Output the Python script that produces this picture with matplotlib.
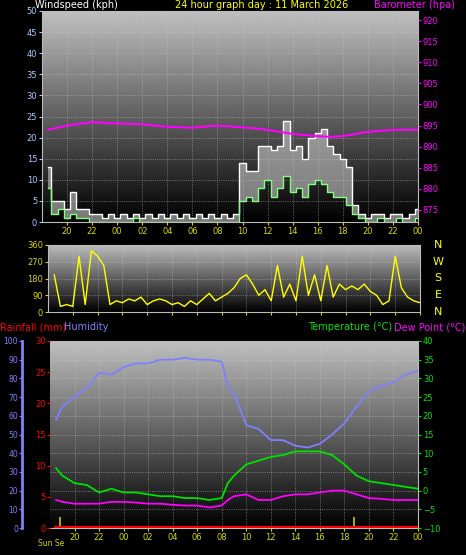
import numpy as np
import matplotlib
matplotlib.use("Agg")
import matplotlib.pyplot as plt

# ---------------- data ----------------
hour_ticks = [20, 22, 24, 26, 28, 30, 32, 34, 36, 38, 40, 42, 44, 46, 48]
hour_labels = ["20", "22", "00", "02", "04", "06", "08", "10", "12", "14", "16", "18", "20", "22", "00"]

wind_gust = [13, 5, 5, 3, 7, 3, 3, 2, 2, 1, 2, 1, 2, 1, 2, 1, 2, 1, 2, 1, 2, 1, 2, 1, 2, 1, 2, 1, 2, 1, 2, 14,
             12, 12, 18, 18, 17, 18, 24, 17, 18, 15, 20, 21, 22, 18, 16, 15, 13, 4, 2, 1, 2, 2, 1, 2, 2, 1, 2, 3]
wind_avg = [8, 2, 3, 1, 2, 1, 1, 0, 0, 0, 0, 0, 0, 0, 1, 0, 0, 0, 0, 0, 0, 0, 0, 0, 0, 0, 0, 0, 0, 0, 0, 5,
            6, 5, 8, 10, 6, 8, 11, 7, 8, 6, 9, 10, 9, 7, 6, 6, 4, 2, 1, 0, 0, 1, 0, 0, 1, 0, 0, 1]
wind_dir = [200, 30, 40, 30, 300, 40, 330, 300, 250, 40, 60, 50, 70, 60, 80, 40, 60, 70, 60, 40, 50, 30, 60, 40,
            70, 100, 60, 80, 100, 130, 180, 200, 150, 90, 120, 60, 250, 80, 150, 60, 300, 90, 200, 60, 250, 80,
            150, 120, 140, 120, 150, 110, 90, 40, 60, 300, 130, 80, 60, 50]

press_t = [18.5, 20, 22, 24, 26, 28, 30, 32, 34, 36, 38, 40, 41, 42, 44, 46, 48]
press = [894, 895, 895.8, 895.5, 895.3, 894.7, 894.5, 895, 894.6, 894, 893, 892.5, 892.3, 892.5, 893.5, 894, 894]

clim_t = [18.5, 19, 20, 21, 22, 23, 24, 25, 26, 27, 28, 29, 30, 31, 32, 32.5, 33, 34, 35, 36, 37, 38, 39, 40,
          41, 42, 43, 44, 45, 46, 47, 48]
humidity = [58, 65, 70, 75, 83, 82, 86, 88, 88, 90, 90, 91, 90, 90, 89, 76, 72, 55, 53, 47, 47, 44, 43, 45,
            50, 56, 65, 73, 76, 78, 82, 84]
temperature = [6, 4, 2, 1.5, -0.5, 0.5, -0.5, -0.5, -1, -1.5, -1.5, -2, -2, -2.5, -2, 2, 4, 7, 8, 9, 9.5,
               10.5, 10.5, 10.5, 9.5, 7, 4, 2.5, 2, 1.5, 1, 0.5]
dewpoint = [-2.5, -3, -3.5, -3.5, -3.5, -3, -3, -3.2, -3.5, -3.5, -3.8, -4, -4, -4.5, -4, -2.5, -1.5, -1, -2.5,
            -2.5, -1.5, -1, -1, -0.5, 0, 0, -1, -2, -2.2, -2.5, -2.5, -2.5]
rain_t = [18.5, 48]
rain = [0, 0]

# ---------------- figure ----------------
W, H = 466, 555
fig = plt.figure(figsize=(W / 100, H / 100), dpi=100, facecolor="black")
plt.rcParams['font.family'] = ['DejaVu Sans']
YEL = "#d8d800"
FS = 6

grad = np.linspace(0.75, 0.0, 256).reshape(-1, 1)


def panel(l, t, r, b):
    ax = fig.add_axes([l / W, 1 - b / H, (r - l) / W, (b - t) / H])
    ax.set_facecolor("black")
    ax.imshow(grad, extent=[0, 1, 0, 1], transform=ax.transAxes, cmap="gray", vmin=0, vmax=1,
              aspect="auto", zorder=0)
    ax.set_xlim(18, 48)
    ax.set_xticks(hour_ticks)
    ax.grid(True, color="#cccccc", ls=":", lw=0.6, alpha=0.6)
    for s in ax.spines.values():
        s.set_color("#bbbbbb")
    ax.tick_params(colors=YEL, labelsize=FS, length=2, pad=1.5)
    return ax


def tx(x, y, s, c, ha="left", fs=7):
    fig.text(x / W, 1 - y / H, s, color=c, ha=ha, va="center", fontsize=fs)


# panel 1: wind + pressure
ax1 = panel(42, 11, 418, 222)
tw = 18.5 + 0.5 * np.arange(len(wind_gust))
ax1.fill_between(tw, wind_avg, wind_gust, step="mid", color="#c8c8c8", alpha=0.6, lw=0, zorder=2)
ax1.step(tw, wind_gust, where="mid", color="white", lw=1.0, zorder=3)
ax1.step(tw, wind_avg, where="mid", color="#80ff80", lw=1.0, zorder=4)
ax1.set_ylim(0, 50)
ax1.set_yticks(range(0, 51, 5))
ax1.tick_params(axis="y", colors="#aaccff")
ax1.set_xticklabels(hour_labels)
ax1p = ax1.twinx()
ax1p.plot(press_t, press, color="#ff00ff", lw=1.5, zorder=5)
ax1p.set_ylim(872.1, 922.2)
ax1p.set_yticks(range(875, 921, 5))
ax1p.tick_params(colors="#ff00ff", labelsize=FS, length=2, pad=1.5)
for s in ax1p.spines.values():
    s.set_visible(False)
tx(35, 5, "Windspeed (kph)", "white")
tx(262, 5, "24 hour graph day : 11 March 2026", "#ffff00", ha="center")
tx(455, 5, "Barometer (hpa)", "#ff00ff", ha="right")

# panel 2: wind direction
ax2 = panel(48, 245, 420, 312)
td = 18.5 + 0.5 * np.arange(len(wind_dir))
ax2.plot(td, wind_dir, color="#ffff00", lw=1.0, zorder=3)
ax2.set_ylim(0, 360)
ax2.set_yticks([0, 90, 180, 270, 360])
ax2.set_xticklabels([])
for i, s in enumerate(["N", "W", "S", "E", "N"]):
    tx(438, 245 + i * 16.7, s, "#ffff00", ha="center", fs=8)

# panel 3: humidity / rain / temperature / dew point
ax3 = panel(50, 341, 418, 528)
ax3.plot(clim_t, humidity, color="#8080ff", lw=1.3, zorder=3)
ax3.set_ylim(0, 100)
ax3.set_yticks(range(0, 101, 10))
ax3.spines["left"].set_position(("outward", 20))
ax3.spines["left"].set_color("#8080ff")
ax3.spines["left"].set_linewidth(2)
ax3.tick_params(axis="y", colors="#8080ff", labelsize=5.5, pad=1)
ax3.set_xticklabels(hour_labels)
ax3.vlines([18.8, 42.8], 0, 6, color="#c8c800", lw=1.2, zorder=4)
ax3r = ax3.twinx()
ax3r.plot(rain_t, rain, color="red", lw=3, zorder=5)
ax3r.set_ylim(0, 30)
ax3r.yaxis.set_ticks_position("left")
ax3r.set_yticks(range(0, 31, 5))
ax3r.tick_params(colors="red", labelsize=FS, length=2, pad=1)
for s in ax3r.spines.values():
    s.set_visible(False)
ax3t = ax3.twinx()
ax3t.plot(clim_t, temperature, color="#00e000", lw=1.3, zorder=4)
ax3t.plot(clim_t, dewpoint, color="#ff00ff", lw=1.3, zorder=4)
ax3t.set_ylim(-10, 40)
ax3t.set_yticks(range(-10, 41, 5))
ax3t.tick_params(colors="#00e000", labelsize=FS, length=2, pad=1.5)
for s in ax3t.spines.values():
    s.set_visible(False)
tx(38, 543, "Sun Se", YEL, ha="left", fs=5.5)
tx(0, 327, "Rainfall (mm)", "red")
tx(64, 327, "Humidity", "#8080ff")
tx(392, 327, "Temperature (°C)", "#00e000", ha="right")
tx(465, 327, "Dew Point (°C)", "#ff00ff", ha="right")

fig.savefig("out.png", dpi=100, facecolor="black")
